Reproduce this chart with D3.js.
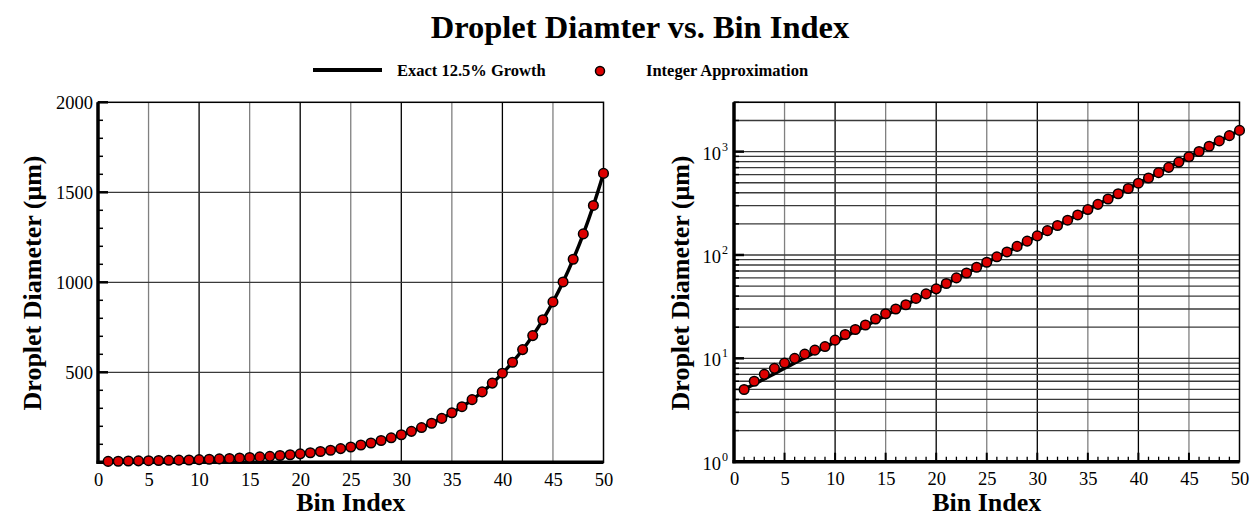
<!DOCTYPE html>
<html><head><meta charset="utf-8">
<script src="https://cdn.jsdelivr.net/npm/d3@7"></script>
<style>body{margin:0;background:#fff}svg{display:block}</style>
</head><body>
<script>
const binIndex = d3.range(1, 51);
const exactGrowth = [5.000,5.625,6.328,7.119,8.009,9.010,10.136,11.403,12.829,14.433,
 16.237,18.266,20.549,23.118,26.008,29.259,32.916,37.031,41.660,46.867,
 52.725,59.316,66.731,75.072,84.456,95.013,106.890,120.251,135.282,152.192,
 171.217,192.619,216.696,243.783,274.256,308.538,347.105,390.493,439.305,494.218,
 555.995,625.494,703.681,791.641,890.597,1001.921,1127.161,1268.056,1426.563,1604.884];
const integerApprox = [5,6,7,8,9,10,11,12,13,15,17,19,21,24,27,30,33,38,42,47,
 53,60,67,76,85,96,107,121,136,153,172,193,217,244,275,309,348,391,440,495,
 556,626,704,792,891,1002,1128,1269,1427,1605];
const xTicks = [0,5,10,15,20,25,30,35,40,45,50];
const linTicks = [500,1000,1500,2000];
const logDecades = [1,10,100,1000];
const logExps = ["0","1","2","3"];

const W = 1257, H = 516;
const SERIF = "'Liberation Serif','Times New Roman',serif";
const svg = d3.select("body").append("svg").attr("width", W).attr("height", H)
  .style("font-family", SERIF);

svg.append("text").attr("x", 640).attr("y", 38).attr("text-anchor", "middle")
  .attr("font-size", 32.5).attr("font-weight", "bold").text("Droplet Diamter vs. Bin Index");

// legend
svg.append("line").attr("x1", 313).attr("x2", 382).attr("y1", 70).attr("y2", 70)
  .attr("stroke", "#000").attr("stroke-width", 4);
svg.append("text").attr("x", 397).attr("y", 76).attr("font-size", 16.5).attr("font-weight", "bold").text("Exact 12.5% Growth");
svg.append("circle").attr("cx", 600).attr("cy", 71).attr("r", 4.5).attr("fill", "#dd0000").attr("stroke", "#000").attr("stroke-width", 1.5);
svg.append("text").attr("x", 646).attr("y", 76).attr("font-size", 16.5).attr("font-weight", "bold").text("Integer Approximation");

function panel(opts) {
  const {x0, x1, y0, y1, yScale} = opts;
  const x = d3.scaleLinear().domain([0, 50]).range([x0, x1]);
  const y = yScale.range([y1, y0]);
  const g = svg.append("g");

  xTicks.slice(1, -1).forEach(t => {
    g.append("line").attr("x1", x(t)).attr("x2", x(t)).attr("y1", y0).attr("y2", y1)
      .attr("stroke", t % 10 === 0 ? "#000" : "#808080").attr("stroke-width", 1.3);
  });
  opts.hLines.forEach(h => {
    if (h.grid) g.append("line").attr("x1", x0).attr("x2", x1).attr("y1", y(h.v)).attr("y2", y(h.v))
      .attr("stroke", "#3a3a3a").attr("stroke-width", 1.3);
    g.append("line").attr("x1", x0).attr("x2", x0 + (h.major ? 10 : 5)).attr("y1", y(h.v)).attr("y2", y(h.v))
      .attr("stroke", "#000").attr("stroke-width", h.major ? 2.5 : 1.5);
  });
  if (opts.xMinor) {
    d3.range(1, 50).forEach(t => {
      g.append("line").attr("x1", x(t)).attr("x2", x(t)).attr("y1", y1).attr("y2", y1 - (t % 5 === 0 ? 9 : 5))
        .attr("stroke", "#000").attr("stroke-width", t % 5 === 0 ? 2 : 1.3);
    });
  }
  g.append("rect").attr("x", x0).attr("y", y0).attr("width", x1 - x0).attr("height", y1 - y0)
    .attr("fill", "none").attr("stroke", "#000").attr("stroke-width", 1.5);
  g.append("line").attr("x1", x0).attr("x2", x0).attr("y1", y0).attr("y2", y1 + 1.5).attr("stroke", "#000").attr("stroke-width", 3.5);
  g.append("line").attr("x1", x0 - 1.5).attr("x2", x1).attr("y1", y1).attr("y2", y1).attr("stroke", "#000").attr("stroke-width", 3.5);

  const xAxis = d3.axisBottom(x).tickValues(xTicks).tickFormat(d3.format("d")).tickSize(0).tickPadding(0);
  const xa = g.append("g").attr("transform", `translate(0,${y1 + 17})`).call(xAxis);
  xa.select(".domain").remove();
  xa.selectAll("text").attr("font-size", 18.5).attr("font-family", SERIF).attr("fill", "#000").attr("dy", "0.35em");

  const line = d3.line().x((d, i) => x(binIndex[i])).y(d => y(d)).curve(d3.curveMonotoneX);
  g.append("path").datum(exactGrowth).attr("d", line).attr("fill", "none").attr("stroke", "#000").attr("stroke-width", 3.5);
  g.selectAll("circle.pt").data(integerApprox).enter().append("circle")
    .attr("cx", (d, i) => x(binIndex[i])).attr("cy", d => y(d)).attr("r", 4.8)
    .attr("fill", "#dd0000").attr("stroke", "#000").attr("stroke-width", 1.5);

  g.append("text").attr("x", (x0 + x1) / 2).attr("y", 511).attr("text-anchor", "middle")
    .attr("font-size", 26).attr("font-weight", "bold").text("Bin Index");
  g.append("text").attr("transform", `translate(${opts.ylabX},283) rotate(-90)`).attr("text-anchor", "middle")
    .attr("dy", "0.35em").attr("font-size", 26).attr("font-weight", "bold").text("Droplet Diameter (\u03bcm)");
  return {g, x, y};
}

const left = panel({
  x0: 98, x1: 603.5, y0: 102.3, y1: 462.3,
  yScale: d3.scaleLinear().domain([0, 2000]),
  hLines: d3.range(100, 2001, 100).map(v => ({v, major: v % 500 === 0, grid: v % 500 === 0 && v < 2000})),
  ylabX: 32
});
const la = d3.axisLeft(left.y).tickValues(linTicks).tickFormat(d3.format("d")).tickSize(0).tickPadding(0);
const lag = left.g.append("g").attr("transform", "translate(93,0)").call(la);
lag.select(".domain").remove();
lag.selectAll("text").attr("font-size", 18.5).attr("font-family", SERIF).attr("fill", "#000");

const hLog = [];
[1, 10, 100, 1000].forEach(dec => {
  for (let m = 1; m <= 9; m++) {
    const v = dec * m;
    if (v > 3000) break;
    if (v === 1) continue;
    hLog.push({v, major: m === 1, grid: true});
  }
});
const right = panel({
  x0: 734, x1: 1239.5, y0: 102.3, y1: 461.7,
  yScale: d3.scaleLog().domain([1, 3000]),
  hLines: hLog,
  xMinor: true,
  ylabX: 680
});
right.g.append("line").attr("x1", 734).attr("x2", 744).attr("y1", right.y(1)).attr("y2", right.y(1)).attr("stroke", "#000").attr("stroke-width", 2.5);
logDecades.forEach((d, i) => {
  right.g.append("text").attr("x", 721).attr("y", right.y(d) + 8).attr("text-anchor", "end")
    .attr("font-size", 18.5).text("10");
  right.g.append("text").attr("x", 722).attr("y", right.y(d) - 1).attr("font-size", 12).text(logExps[i]);
});
</script>
</body></html>
